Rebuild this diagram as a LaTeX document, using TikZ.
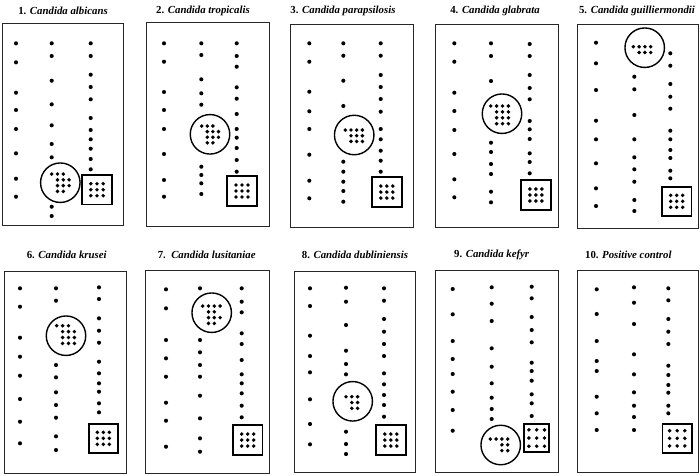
\documentclass[tikz,border=0pt]{standalone}
\usepackage{fontspec}
\setmainfont{Liberation Serif}
\newcommand\dcol[2]{\foreach \yy in {#2}{\fill (#1,\yy) circle (2.05);}}
\newcommand\ringdots[4]{\foreach \c/\r in {#4}{\fill (#1+\c*#3, #2+\r*#3) circle (1.95);}}
\newcommand\sqdots[4]{\foreach \i in {-1,0,1}{\foreach \j in {-1,0,1}{\fill (#1+\i*#3, #2+\j*#4) circle (1.95);}}}
\begin{document}
\begin{tikzpicture}[x=1pt,y=-1pt,
  panel/.style={draw=black!85,line width=1pt},
  ring/.style={draw,circle,line width=1.4pt,minimum size=39.5pt,inner sep=0pt},
  ctrl/.style={draw,rectangle,line width=1.9pt,minimum width=29.5pt,minimum height=29.5pt,inner sep=0pt},
  ttl/.style={font=\fontsize{10.8}{12}\selectfont\bfseries,inner sep=0pt}]
\useasboundingbox (0,0) rectangle (700,475);
% ---------- Panel 1
\node[ttl] (t1) at (63,11) {1. \textit{Candida albicans}};
\draw[panel] (2,23) rectangle (123,225);
\dcol{16}{43.3,62.3,92.7,110,129,153.3,178.7,196.7}
\dcol{51.7}{43.3,56,80.7,104.3,125.3,144,157.3,206.7,216}
\dcol{90.7}{43.3,56,74.7,87,99.3,118,130,139.3,148.7,159,169.3}
\node[ring] (c1) at (60.3,182.7) {};
\ringdots{51.7}{174}{5.8}{0/0,1/0,2/0,1/1,2/1,3/1,1/2,2/2,3/2,1/3,2/3}
\node[ctrl] (s1) at (97,189.7) {};
\sqdots{97}{189.7}{6.2}{6}
% ---------- Panel 2
\node[ttl] (t2) at (203,11) {2. \textit{Candida tropicalis}};
\draw[panel] (146,22.7) rectangle (269.3,226.7);
\dcol{164}{43.3,61.7,92,110,129,154,180,196.7}
\dcol{201.3}{43.3,55,79.3,93.3,104.7,166.7,175,183.3,194}
\dcol{236.7}{43.3,56,66.7,87.3,98.7,114,129,137.7,148,160,171.7}
\node[ring] (c2) at (210,134.3) {};
\ringdots{201.7}{126}{5.6}{0/0,1/0,2/0,1/1,2/1,3/1,1/2,2/2,3/2,1/3,2/3}
\node[ctrl] (s2) at (242,191) {};
\sqdots{242}{191}{6}{6}
% ---------- Panel 3
\node[ttl] (t3) at (343,11) {3. \textit{Candida parapsilosis}};
\draw[panel] (290,24) rectangle (413.3,227.7);
\dcol{309.3}{43.3,61.7,91.7,111.3,129,154.7,180.7,198.3}
\dcol{343.3}{43.3,55.7,80.7,106,161.7,171.7,181.7,191,201.7}
\dcol{380.7}{43.3,55.7,75,87,99,111.7,129,139.3,150.7,160.7,171.7}
\node[ring] (c3) at (354.2,135) {};
\ringdots{345.3}{130}{5.7}{0/0,1/0,2/0,3/0,1/1,2/1,3/1,1/2,2/2,3/2}
\node[ctrl] (s3) at (386.8,192) {};
\sqdots{386.8}{192}{6}{6}
% ---------- Panel 4
\node[ttl] (t4) at (495,11) {4. \textit{Candida glabrata}};
\draw[panel] (435.7,24) rectangle (558.3,227.7);
\dcol{454.3}{43.3,61.7,92.7,111,130,154,179.3,197.3}
\dcol{491}{43.3,56,81,142.7,152,164,174,191.7,202.3}
\dcol{529.7}{44,56,75,88,99.3,121,129.3,139,153.3,162,173.3}
\node[ring] (c4) at (502,113.7) {};
\ringdots{490.7}{106}{5.9}{0/0,1/0,2/0,3/0,1/1,2/1,3/1,1/2,2/2,3/2,1/3,2/3,3/3}
\node[ctrl] (s4) at (535.8,195) {};
\sqdots{535.8}{195}{6}{6}
% ---------- Panel 5
\node[ttl] (t5) at (637,11) {5. \textit{Candida guilliermondii}};
\draw[panel] (577.7,24) rectangle (698.3,228.3);
\dcol{596}{42.7,63.3,90,120.7,139.3,163.3,188.3,206}
\dcol{634.3}{76.7,89.3,115,139.3,157.3,169.3,181.7,200,211}
\dcol{670.3}{53.3,65.7,84,96.7,108.7,130.7,139.3,150,158,170.7,178.3}
\node[ring] (c5) at (644.7,47.7) {};
\ringdots{633.3}{46.7}{5.8}{0/0,1/0,2/0,3/0,1/1,2/1,3/1}
\node[ctrl] (s5) at (676.7,201.3) {};
\sqdots{676.7}{201.3}{6}{6}
% ---------- Panel 6
\node[ttl] (t6) at (66.7,255) {6. \textit{Candida krusei}};
\draw[panel] (4,271) rectangle (126,473.3);
\dcol{20}{288.3,306.7,337.7,356.7,375.7,399,421.7,443.3}
\dcol{56}{288.3,300.7,365,377.3,392.3,405,417.7,436.3,450}
\dcol{99}{287.3,299,318.3,330.7,342.7,361.7,373.3,383.3,391.7,403.3,412.3}
\node[ring] (c6) at (66,335.7) {};
\ringdots{56.7}{325.7}{5.9}{0/0,1/0,2/0,1/1,2/1,3/1,1/2,2/2,3/2,1/3,2/3,3/3}
\node[ctrl] (s6) at (103.3,438.3) {};
\sqdots{103.3}{438.3}{6}{6}
% ---------- Panel 7
\node[ttl] (t7) at (206.7,255) {7.\ \ \textit{Candida lusitaniae}};
\draw[panel] (145,270) rectangle (269.3,473.3);
\dcol{166}{289.3,308.3,340,358.3,376.7,402.7,420.7,446.7}
\dcol{200}{288.3,340,352.3,365,376.7,395.7,418.3,438.3,451.7}
\dcol{241.7}{288.3,301.7,312.3,333.3,344,360,374.3,383.3,393.3,405.7,417.3}
\node[ring] (c7) at (211.7,312.7) {};
\ringdots{202.7}{306}{5.8}{0/0,1/0,2/0,3/0,1/1,2/1,1/2,2/2,3/2,1/3,2/3}
\node[ctrl] (s7) at (247.7,440) {};
\sqdots{247.7}{440}{6}{6}
% ---------- Panel 8
\node[ttl] (t8) at (355,255) {8. \textit{Candida dubliniensis}};
\draw[panel] (294,271) rectangle (415,472.3);
\dcol{310}{288.3,306,335.7,356,372.3,399.3,424,444.3}
\dcol{346}{287.7,301.7,325,350.7,364,374.3,431.7,444,454}
\dcol{384}{288.3,300.7,319,331.7,344,356,373.3,384.3,395,405,416.7}
\node[ring] (c8) at (352.7,401.3) {};
\ringdots{346}{396.7}{5.8}{0/0,1/0,2/0,1/1,2/1,1/2,2/2}
\node[ctrl] (s8) at (390.8,440) {};
\sqdots{390.8}{440}{6}{6}
% ---------- Panel 9
\node[ttl] (t9) at (491.7,255) {9. \textit{Candida kefyr}};
\draw[panel] (435.7,270) rectangle (558.3,472.3);
\dcol{452.7}{289,314.3,341,359,374,391.7,410,430.7}
\dcol{491.7}{287.3,303.7,321,348.3,366.7,383.3,397.7,409,419}
\dcol{531.7}{286.7,298.3,317,330,342.3,362.7,371,380.7,394.3,403.3,416}
\node[ring] (c9) at (500.7,445) {};
\ringdots{490.3}{439}{5.8}{0/0,1/0,2/0,3/0,2/1,3/1,2/2,3/2}
\node[ctrl,minimum width=25pt,minimum height=28.3pt] (s9) at (536.7,438) {};
\sqdots{536.7}{438}{7.8}{8.2}
% ---------- Panel 10
\node[ttl] (t10) at (628.3,255) {10. \textit{Positive control}};
\draw[panel] (577.7,270) rectangle (698.5,472.3);
\dcol{596.7}{289.3,314,341,361,371,396.7,413.3,430}
\dcol{634}{287.3,302.7,324,354.3,374.3,392.3,405.7,417,430}
\dcol{668.3}{288.3,300.3,319,331.7,344,365.7,375,385,392.7,405.7,413.3}
\node[ctrl] (s10) at (677.2,438.3) {};
\sqdots{677.2}{438.3}{7.6}{7.6}
\end{tikzpicture}
\end{document}
